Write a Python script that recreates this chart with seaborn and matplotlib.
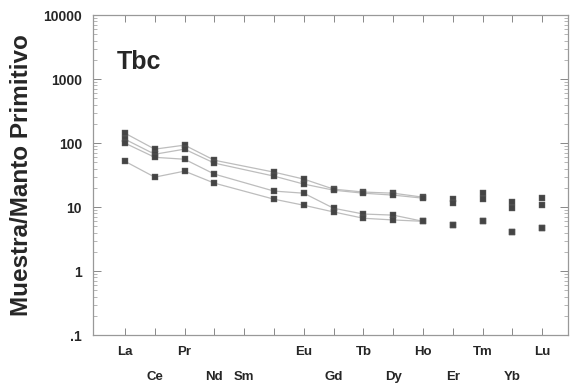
import numpy as np
import pandas as pd
import matplotlib
matplotlib.use('Agg')
import matplotlib.pyplot as plt
import seaborn as sns
from matplotlib.ticker import LogLocator, FixedLocator, NullFormatter

# REE spider diagram (Pm has no data)
elements = ['La', 'Ce', 'Pr', 'Nd', 'Sm', 'Eu', 'Gd', 'Tb', 'Dy', 'Ho', 'Er', 'Tm', 'Yb', 'Lu']
positions = [1, 2, 3, 4, 6, 7, 8, 9, 10, 11, 12, 13, 14, 15]

s1 = [143, 80.5, 93, 54, 35.2, 27.4, 19.1, 17.2, 16.5, 14.3, 13.3, 16.5, 12.0, 13.8]
s2 = [115, 67, 80.5, 48.7, 30.5, 22.9, 18.4, 16.5, 15.4, 13.8, 11.5, 13.3, 9.6, 10.7]
s3 = [100, 60, 56, 32.8, 17.8, 16.5, 9.6, 7.8, 7.5, 6.0, 5.2, 6.0, 4.1, 4.7]
s4 = [52, 29.4, 36.5, 23.7, 13.3, 10.7, 8.4, 6.7, 6.3, 6.0, 5.2, 6.0, 4.1, 4.7]

# axis labels as printed (two staggered rows)
row1_labels = ['La', 'Pr', 'Eu', 'Tb', 'Ho', 'Tm', 'Lu']
row1_pos = [1, 3, 7, 9, 11, 13, 15]
row2_labels = ['Ce', 'Nd', 'Sm', '', 'Gd', 'Dy', 'Er', 'Yb']
row2_pos = [2, 4, 5, 6, 8, 10, 12, 14]

y_ticks = [0.1, 1, 10, 100, 1000, 10000]
y_ticklabels = ['.1', '1', '10', '100', '1000', '10000']

rows = []
for name, vals in [('s1', s1), ('s2', s2), ('s3', s3), ('s4', s4)]:
    for el, p, v in zip(elements, positions, vals):
        rows.append({'element': el, 'pos': p, 'series': name, 'value': v})
df = pd.DataFrame(rows)

sns.set_style('ticks')
plt.rcParams['font.family'] = ['Liberation Sans', 'DejaVu Sans']

fig = plt.figure(figsize=(5.76, 3.87), dpi=100)
ax = fig.add_axes([0.1615, 0.134, 0.825, 0.827])

# lines only drawn up to Ho
sns.lineplot(data=df[df['pos'] <= 11], x='pos', y='value', units='series',
             estimator=None, color='#bdbdbd', lw=0.9, ax=ax, legend=False)
sns.scatterplot(data=df, x='pos', y='value', marker='s', color='#444444',
                s=13, edgecolor='#666666', linewidth=0.3, ax=ax, legend=False, zorder=3)

ax.set_yscale('log')
ax.set_ylim(0.1, 10000)
ax.set_xlim(-0.07, 15.87)

ax.yaxis.set_major_locator(FixedLocator(y_ticks))
ax.set_yticklabels(y_ticklabels, fontsize=10, fontweight='bold')
ax.yaxis.set_minor_locator(LogLocator(base=10, subs=np.arange(2, 10)))
ax.yaxis.set_minor_formatter(NullFormatter())

ax.xaxis.set_major_locator(FixedLocator(row1_pos))
ax.set_xticklabels(row1_labels, fontsize=9.5, fontweight='bold')
ax.xaxis.set_minor_locator(FixedLocator(row2_pos))
ax.xaxis.set_minor_formatter(matplotlib.ticker.FixedFormatter(row2_labels))
for lab in ax.xaxis.get_minorticklabels():
    lab.set_fontsize(9.5)
    lab.set_fontweight('bold')

ax.tick_params(axis='x', which='major', direction='in', length=5, width=0.7,
               color='#888888', pad=8, top=True)
ax.tick_params(axis='x', which='minor', direction='in', length=5, width=0.7,
               color='#888888', pad=26, top=True)
ax.tick_params(axis='y', which='major', direction='in', length=6, width=0.7,
               color='#888888', pad=8, right=True)
ax.tick_params(axis='y', which='minor', direction='in', length=3, width=0.5,
               color='#999999', right=True)

for sp in ax.spines.values():
    sp.set_visible(True)
    sp.set_color('#999999')
    sp.set_linewidth(0.9)

ax.set_xlabel('')
ax.set_ylabel('Muestra/Manto Primitivo', fontsize=17.5, fontweight='bold', labelpad=7)

ax.text(0.05, 0.853, 'Tbc', transform=ax.transAxes, fontsize=18,
        fontweight='bold', va='center', ha='left')

fig.savefig('out.png', dpi=100)
